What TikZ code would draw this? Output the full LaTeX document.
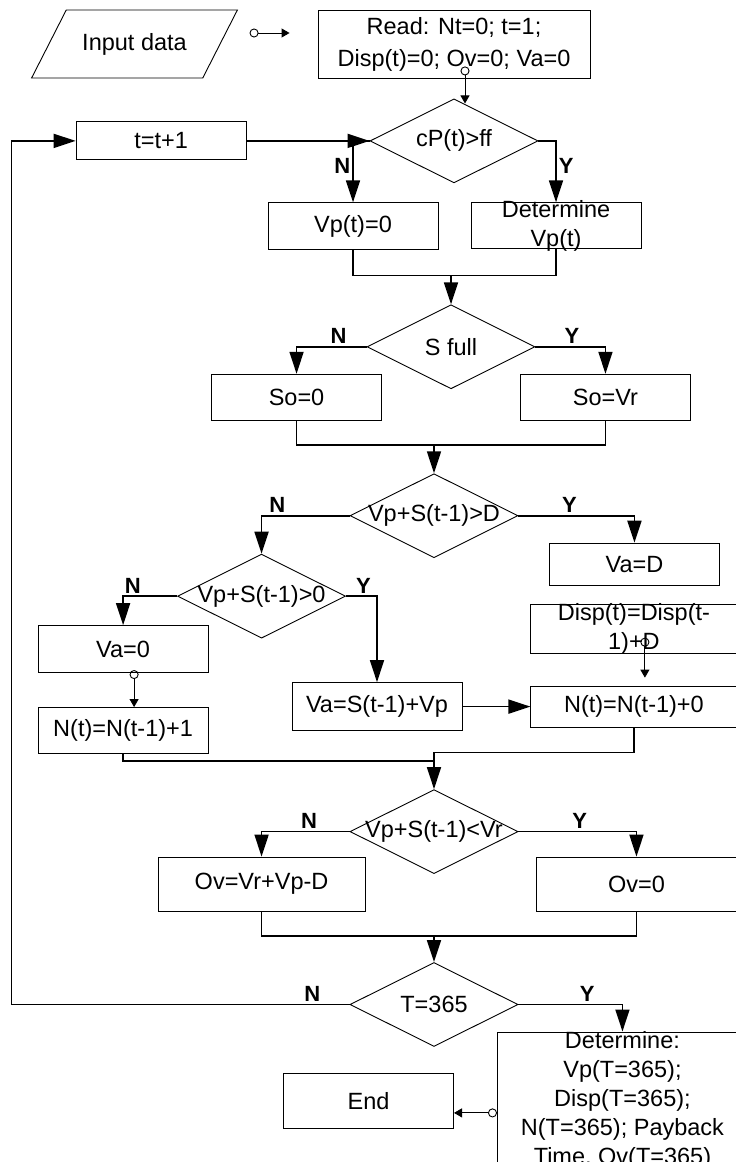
\documentclass[tikz,border=0pt]{standalone}
\usepackage{fontspec}
\setmainfont{Liberation Sans}
\usetikzlibrary{shapes.geometric, arrows.meta, positioning}

\begin{document}
\begin{tikzpicture}[
  x=1pt, y=1pt,
  box/.style={rectangle, draw, line width=0.9pt, minimum width=170pt,
              minimum height=47pt, inner sep=0pt, align=center,
              font=\fontsize{23.5}{29}\selectfont},
  io/.style={trapezium, trapezium left angle=63, trapezium right angle=117,
             draw, line width=0.9pt, inner xsep=16pt, inner ysep=23pt,
             font=\fontsize{23.5}{29}\selectfont},
  dec/.style={diamond, shape aspect=2, draw, line width=0.9pt,
              minimum width=168pt, minimum height=84pt,
              inner xsep=-5pt, inner ysep=-2pt,
              font=\fontsize{23.5}{29}\selectfont},
  arr/.style={-{Triangle[length=22pt,width=14pt]}, line width=1.7pt},
  wire/.style={line width=1.7pt},
  link/.style={{Circle[open,length=9pt,width=9pt]}-{Triangle[length=8pt,width=9pt]},
               line width=0.9pt},
  yn/.style={font=\fontsize{22}{26}\selectfont\bfseries, inner sep=2pt},
]
\useasboundingbox (0,0) rectangle (736,-1162);
\clip (0,0) rectangle (736,-1162);

% Start
\node[io] (inp) at (134.5,-44) {Input data};
\node[box, minimum width=272pt, minimum height=68pt,
      font=\fontsize{23.5}{32}\selectfont] (rd) at (454,-44) {Read: Nt=0; t=1;\\Disp(t)=0; Ov=0; Va=0};

% Daily step
\node[dec, below=20pt of rd] (cp) {cP(t)>ff};
\node[box, left=123pt of cp, minimum height=38pt] (tinc) {t=t+1};
\node[box, below=19pt of cp, xshift=-101pt] (vp0) {Vp(t)=0};
\node[box, below=19pt of cp, xshift=102pt, minimum height=46pt, inner ysep=-4pt] (vpd) {Determine\\Vp(t)};

% Storage
\node[dec, below=121pt of cp, xshift=-3pt] (sf) {S full};
\node[box, below=27pt of sf.west, xshift=-70pt, minimum height=46pt] (so0) {So=0};
\node[box, below=27pt of sf.east, xshift=70pt, minimum height=46pt] (sovr) {So=Vr};

% Demand
\node[dec, below=84pt of sf, xshift=-17pt] (dgt) {Vp+S(t-1)>D};
\node[dec, below=38pt of dgt.west, xshift=-88pt] (dpos) {Vp+S(t-1)>0};
\node[box, below=27pt of dgt.east, xshift=116pt, minimum height=42pt] (vad) {Va=D};
\node[box, below=29pt of dpos.west, xshift=-54pt] (va0) {Va=0};
\node[box, below=34pt of va0, minimum height=46pt] (n1) {N(t)=N(t-1)+1};
\node[box, below=86pt of dpos.east, xshift=31pt, minimum height=48pt] (vas) {Va=S(t-1)+Vp};
\node[box, right=68pt of vas, minimum width=206pt, minimum height=41pt] (n0) {N(t)=N(t-1)+0};
\node[box, above=32pt of n0, minimum width=206pt, minimum height=49pt, inner ysep=-4pt] (disp) {Disp(t)=Disp(t-\\1)+D};

% Overflow
\node[dec, below=231pt of dgt] (dlt) {Vp+S(t-1)<Vr};
\node[box, below=25pt of dlt.west, xshift=-88pt, minimum width=207pt, minimum height=54pt] (ovd) {Ov=Vr+Vp-D};
\node[box, below=25pt of dlt.east, xshift=118pt, minimum width=200pt, minimum height=54pt] (ov0) {Ov=0};

% End of year
\node[dec, below=88pt of dlt] (tend) {T=365};
\node[box, below=27pt of tend.east, xshift=104pt, minimum width=250pt, minimum height=137pt] (det)
  {Determine:\\Vp(T=365);\\Disp(T=365);\\N(T=365); Payback\\Time, Ov(T=365)};
\node[box, left=43pt of det, minimum height=55pt] (endb) {End};

% Helper points
\coordinate[left=68pt of rd.west, yshift=11pt] (ia);
\coordinate[left=28pt of rd.west, yshift=11pt] (ib);
\coordinate[above=29pt of sf.north] (mg1);
\coordinate[above=28pt of dgt.north] (mg2);
\coordinate[above=28pt of dlt.north] (mg3);
\coordinate[above=26pt of tend.north] (mg4);
\coordinate[left=338pt of tend.west] (lp);

% Arrows
\draw[link] (ia) -- (ib);
\draw[link] ([xshift=11pt,yshift=12pt]rd.south) -- ([xshift=11pt,yshift=-5pt]cp.north);
\draw[arr] (tinc) -- (cp.west);
\draw[arr] (cp.west) -| node[yn, pos=0.7, left]{N} (vp0.north);
\draw[arr] (cp.east) -| node[yn, pos=0.7, right]{Y} (vpd.north);
\draw[wire] (vp0.south) |- (mg1) -| (vpd.south);
\draw[arr] (mg1) -- (sf.north);

\draw[arr] (sf.west) -| node[yn, pos=0.2, above]{N} (so0.north);
\draw[arr] (sf.east) -| node[yn, pos=0.26, above]{Y} (sovr.north);
\draw[wire] (so0.south) |- (mg2) -| (sovr.south);
\draw[arr] (mg2) -- (dgt.north);

\draw[arr] (dgt.west) -| node[yn, pos=0.41, above]{N} (dpos.north);
\draw[arr] (dgt.east) -| node[yn, pos=0.22, above]{Y} (vad.north);
\draw[arr] (dpos.west) -| node[yn, pos=0.41, above]{N} (va0.north);
\draw[arr] (dpos.east) -| node[yn, pos=0.28, above]{Y} (vas.north);
\draw[link] ([xshift=11pt,yshift=3pt]va0.south) -- ([xshift=11pt]n1.north);
\draw[link] ([xshift=11pt,yshift=16pt]disp.south) -- ([xshift=11pt,yshift=8pt]n0.north);
\draw[arr] (vas.east) -- (vas.east -| n0.west);
\draw[wire] (n1.south) |- (mg3);
\draw[wire] (n0.south) -- ++(0,-25) -| (mg3);
\draw[arr] (mg3) -- (dlt.north);

\draw[arr] (dlt.west) -| node[yn, pos=0.23, above]{N} (ovd.north);
\draw[arr] (dlt.east) -| node[yn, pos=0.26, above]{Y} (ov0.north);
\draw[wire] (ovd.south) |- (mg4) -| (ov0.south);
\draw[arr] (mg4) -- (tend.north);

\draw[arr] (tend.west) -- node[yn, pos=0.11, above]{N} (lp) |- (tinc.west);
\draw[arr] (tend.east) -| node[yn, pos=0.33, above]{Y} (det.north);
\draw[link] ([yshift=-12pt]det.west) -- ([yshift=-12pt]det.west -| endb.east);

\end{tikzpicture}
\end{document}
